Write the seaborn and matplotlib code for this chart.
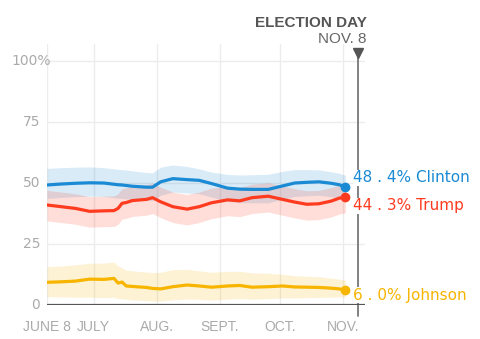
import matplotlib
matplotlib.use("Agg")
import matplotlib.pyplot as plt
import matplotlib.transforms as mtransforms
import seaborn as sns
import pandas as pd

# ---------------- data ----------------
dates = ["2016-06-08", "2016-06-15", "2016-06-22", "2016-06-29", "2016-07-06",
         "2016-07-11", "2016-07-13", "2016-07-15", "2016-07-17", "2016-07-20",
         "2016-07-27", "2016-07-30", "2016-08-03", "2016-08-09", "2016-08-16",
         "2016-08-22", "2016-08-28", "2016-09-05", "2016-09-11", "2016-09-17",
         "2016-09-25", "2016-10-02", "2016-10-08", "2016-10-14", "2016-10-20",
         "2016-10-26", "2016-10-30", "2016-11-02"]

clinton = [49.2, 49.6, 49.9, 50.1, 50.0, 49.5, 49.3, 49.2, 49.0, 48.7,
           48.3, 48.3, 50.5, 51.8, 51.4, 51.1, 49.8, 47.9, 47.5, 47.4,
           47.4, 48.8, 50.0, 50.3, 50.5, 49.9, 49.3, 48.4]
clinton_hi = [56.0, 56.3, 56.5, 56.6, 56.3, 55.8, 55.6, 55.5, 55.3, 55.0,
              54.3, 54.2, 56.5, 57.4, 56.8, 55.8, 54.5, 53.5, 53.3, 53.4,
              53.6, 54.8, 55.5, 55.5, 55.4, 54.6, 54.0, 53.2]
clinton_lo = [43.7, 44.1, 44.4, 44.6, 44.5, 44.0, 43.8, 43.7, 43.5, 43.2,
              42.8, 42.8, 45.0, 46.3, 45.9, 45.6, 44.3, 42.4, 42.0, 41.9,
              41.9, 43.3, 44.5, 44.8, 45.0, 44.4, 43.8, 43.0]

trump = [41.0, 40.3, 39.6, 38.4, 38.6, 38.7, 39.6, 41.7, 42.0, 42.8,
         43.3, 44.0, 42.3, 40.3, 39.3, 40.3, 41.9, 43.1, 42.7, 44.0,
         44.6, 43.3, 42.2, 41.3, 41.5, 42.6, 43.8, 44.3]
trump_hi = [47.0, 46.3, 45.6, 44.4, 44.6, 44.7, 45.6, 47.7, 48.0, 48.8,
            49.3, 50.0, 48.3, 46.3, 45.3, 46.3, 47.9, 48.6, 48.2, 49.5,
            50.1, 48.8, 47.7, 46.8, 47.0, 48.1, 49.3, 49.8]
trump_lo = [34.5, 33.8, 33.1, 31.9, 32.1, 32.2, 33.1, 35.2, 35.5, 36.3,
            36.8, 37.5, 35.8, 33.8, 32.8, 33.8, 35.4, 36.6, 36.2, 37.5,
            38.1, 36.8, 35.7, 34.8, 35.0, 36.1, 37.3, 37.8]

johnson = [9.3, 9.5, 9.8, 10.6, 10.5, 10.9, 9.0, 9.4, 7.8, 7.6,
           7.2, 6.8, 6.6, 7.5, 8.2, 7.8, 7.3, 7.8, 8.0, 7.3,
           7.5, 7.8, 7.4, 7.3, 7.2, 6.9, 6.6, 6.0]
johnson_hi = [15.7, 16.0, 16.5, 17.1, 17.2, 17.6, 16.0, 15.2, 14.3, 14.0,
              13.5, 13.3, 13.4, 14.5, 14.6, 14.0, 13.4, 13.8, 13.8, 13.2,
              13.0, 12.6, 12.0, 11.8, 11.6, 11.0, 10.6, 10.2]
johnson_lo = [3.4, 3.3, 3.2, 3.2, 3.0, 3.2, 2.6, 2.6, 2.3, 2.1,
              1.8, 1.6, 1.6, 2.1, 2.4, 2.3, 2.0, 2.4, 2.6, 2.4,
              2.6, 2.9, 2.9, 3.0, 3.1, 3.2, 3.3, 3.3]

candidates = ["Clinton", "Trump", "Johnson"]
final_pct = ["48 . 4%", "44 . 3%", "6 . 0%"]
colors = {"Clinton": "#1a8ad4", "Trump": "#ff3b1f", "Johnson": "#f7b500"}

x_tick_dates = ["2016-06-08", "2016-07-01", "2016-08-01", "2016-09-01", "2016-10-01", "2016-11-01"]
x_tick_labels = ["JUNE 8", "JULY", "AUG.", "SEPT.", "OCT.", "NOV."]
y_ticks = [0, 25, 50, 75, 100]
y_tick_labels = ["0", "25", "50", "75", "100%"]
election_day = "2016-11-08"

# ---------------- build frame ----------------
d = pd.to_datetime(dates)
series = {"Clinton": (clinton, clinton_lo, clinton_hi),
          "Trump": (trump, trump_lo, trump_hi),
          "Johnson": (johnson, johnson_lo, johnson_hi)}
rows = []
for name in candidates:
    v, lo, hi = series[name]
    rows.append(pd.DataFrame({"date": d, "value": v, "lo": lo, "hi": hi, "candidate": name}))
df = pd.concat(rows, ignore_index=True)

sns.set_style("white")
fig = plt.figure(figsize=(4.8, 3.39), dpi=100)
ax = fig.add_axes([47 / 480, 34 / 339, 318 / 480, 261 / 339])

# bands
for name in candidates:
    sub = df[df.candidate == name]
    ax.fill_between(sub["date"], sub["lo"], sub["hi"], color=colors[name],
                    alpha=0.17, linewidth=0, zorder=2)

sns.lineplot(data=df, x="date", y="value", hue="candidate", hue_order=candidates,
             palette=colors, linewidth=2.3, legend=False, ax=ax, zorder=4)

# end dots
for name in candidates:
    sub = df[df.candidate == name]
    ax.plot(sub["date"].iloc[-1], sub["value"].iloc[-1], "o", color=colors[name],
            ms=6, zorder=5, clip_on=False)

ax.set_xlim(pd.Timestamp("2016-06-08"), pd.Timestamp("2016-11-11 16:00"))
ax.set_ylim(0, 107)
for s in ax.spines.values():
    s.set_visible(False)

# grid
for t in x_tick_dates:
    ax.axvline(pd.Timestamp(t), color="#ececec", lw=1, zorder=0)
for yv in y_ticks[1:]:
    ax.axhline(yv, color="#ececec", lw=1, zorder=0)
ax.axhline(0, color="#555555", lw=1.6, zorder=6)

# x tick labels
ax.set_xticks(pd.to_datetime(x_tick_dates))
ax.set_xticklabels(x_tick_labels, fontfamily="Liberation Sans", fontsize=10, color="#aaaaaa")
ax.tick_params(axis="x", length=0, pad=11)
ax.set_yticks([])
ax.set_xlabel("")
ax.set_ylabel("")

# y labels
trans = mtransforms.blended_transform_factory(ax.transAxes, ax.transData)
for yv, lab in zip(y_ticks, y_tick_labels):
    xpos = 0.0126 if lab.endswith("%") else -0.022
    ax.text(xpos, yv, lab, transform=trans, ha="right", va="center",
            fontfamily="DejaVu Sans", fontsize=10, color="#aaaaaa")

# election day marker
ed = pd.Timestamp(election_day)
ax.plot([ed, ed], [-4.5, 101.5], color="#777777", lw=1.3, clip_on=False, zorder=3)
ax.plot(ed, 103.3, marker="v", color="#555555", ms=7, clip_on=False, zorder=7)
ax.annotate("ELECTION DAY", xy=(1.0, 1.0), xycoords="axes fraction", xytext=(1, 15.2),
            textcoords="offset points", ha="right", va="center",
            fontfamily="Liberation Sans", fontweight="bold", fontsize=11, color="#555555",
            annotation_clip=False)
ax.annotate("NOV. 8", xy=(1.0, 1.0), xycoords="axes fraction", xytext=(1, 3.4),
            textcoords="offset points", ha="right", va="center",
            fontfamily="Liberation Sans", fontsize=11, color="#666666",
            annotation_clip=False)

# end labels (baseline positions)
label_y = {"Clinton": 50.3, "Trump": 38.9, "Johnson": 2.2}
for name, pct in zip(candidates, final_pct):
    ax.annotate(f"{pct} {name}", xy=(ed, label_y[name]), xytext=(-3.2, 0),
                textcoords="offset points", ha="left", va="baseline",
                fontfamily="DejaVu Sans", fontsize=11, color=colors[name], zorder=8,
                annotation_clip=False, bbox=dict(fc="white", ec="none", pad=0.4))

fig.savefig("out.png", dpi=100)
